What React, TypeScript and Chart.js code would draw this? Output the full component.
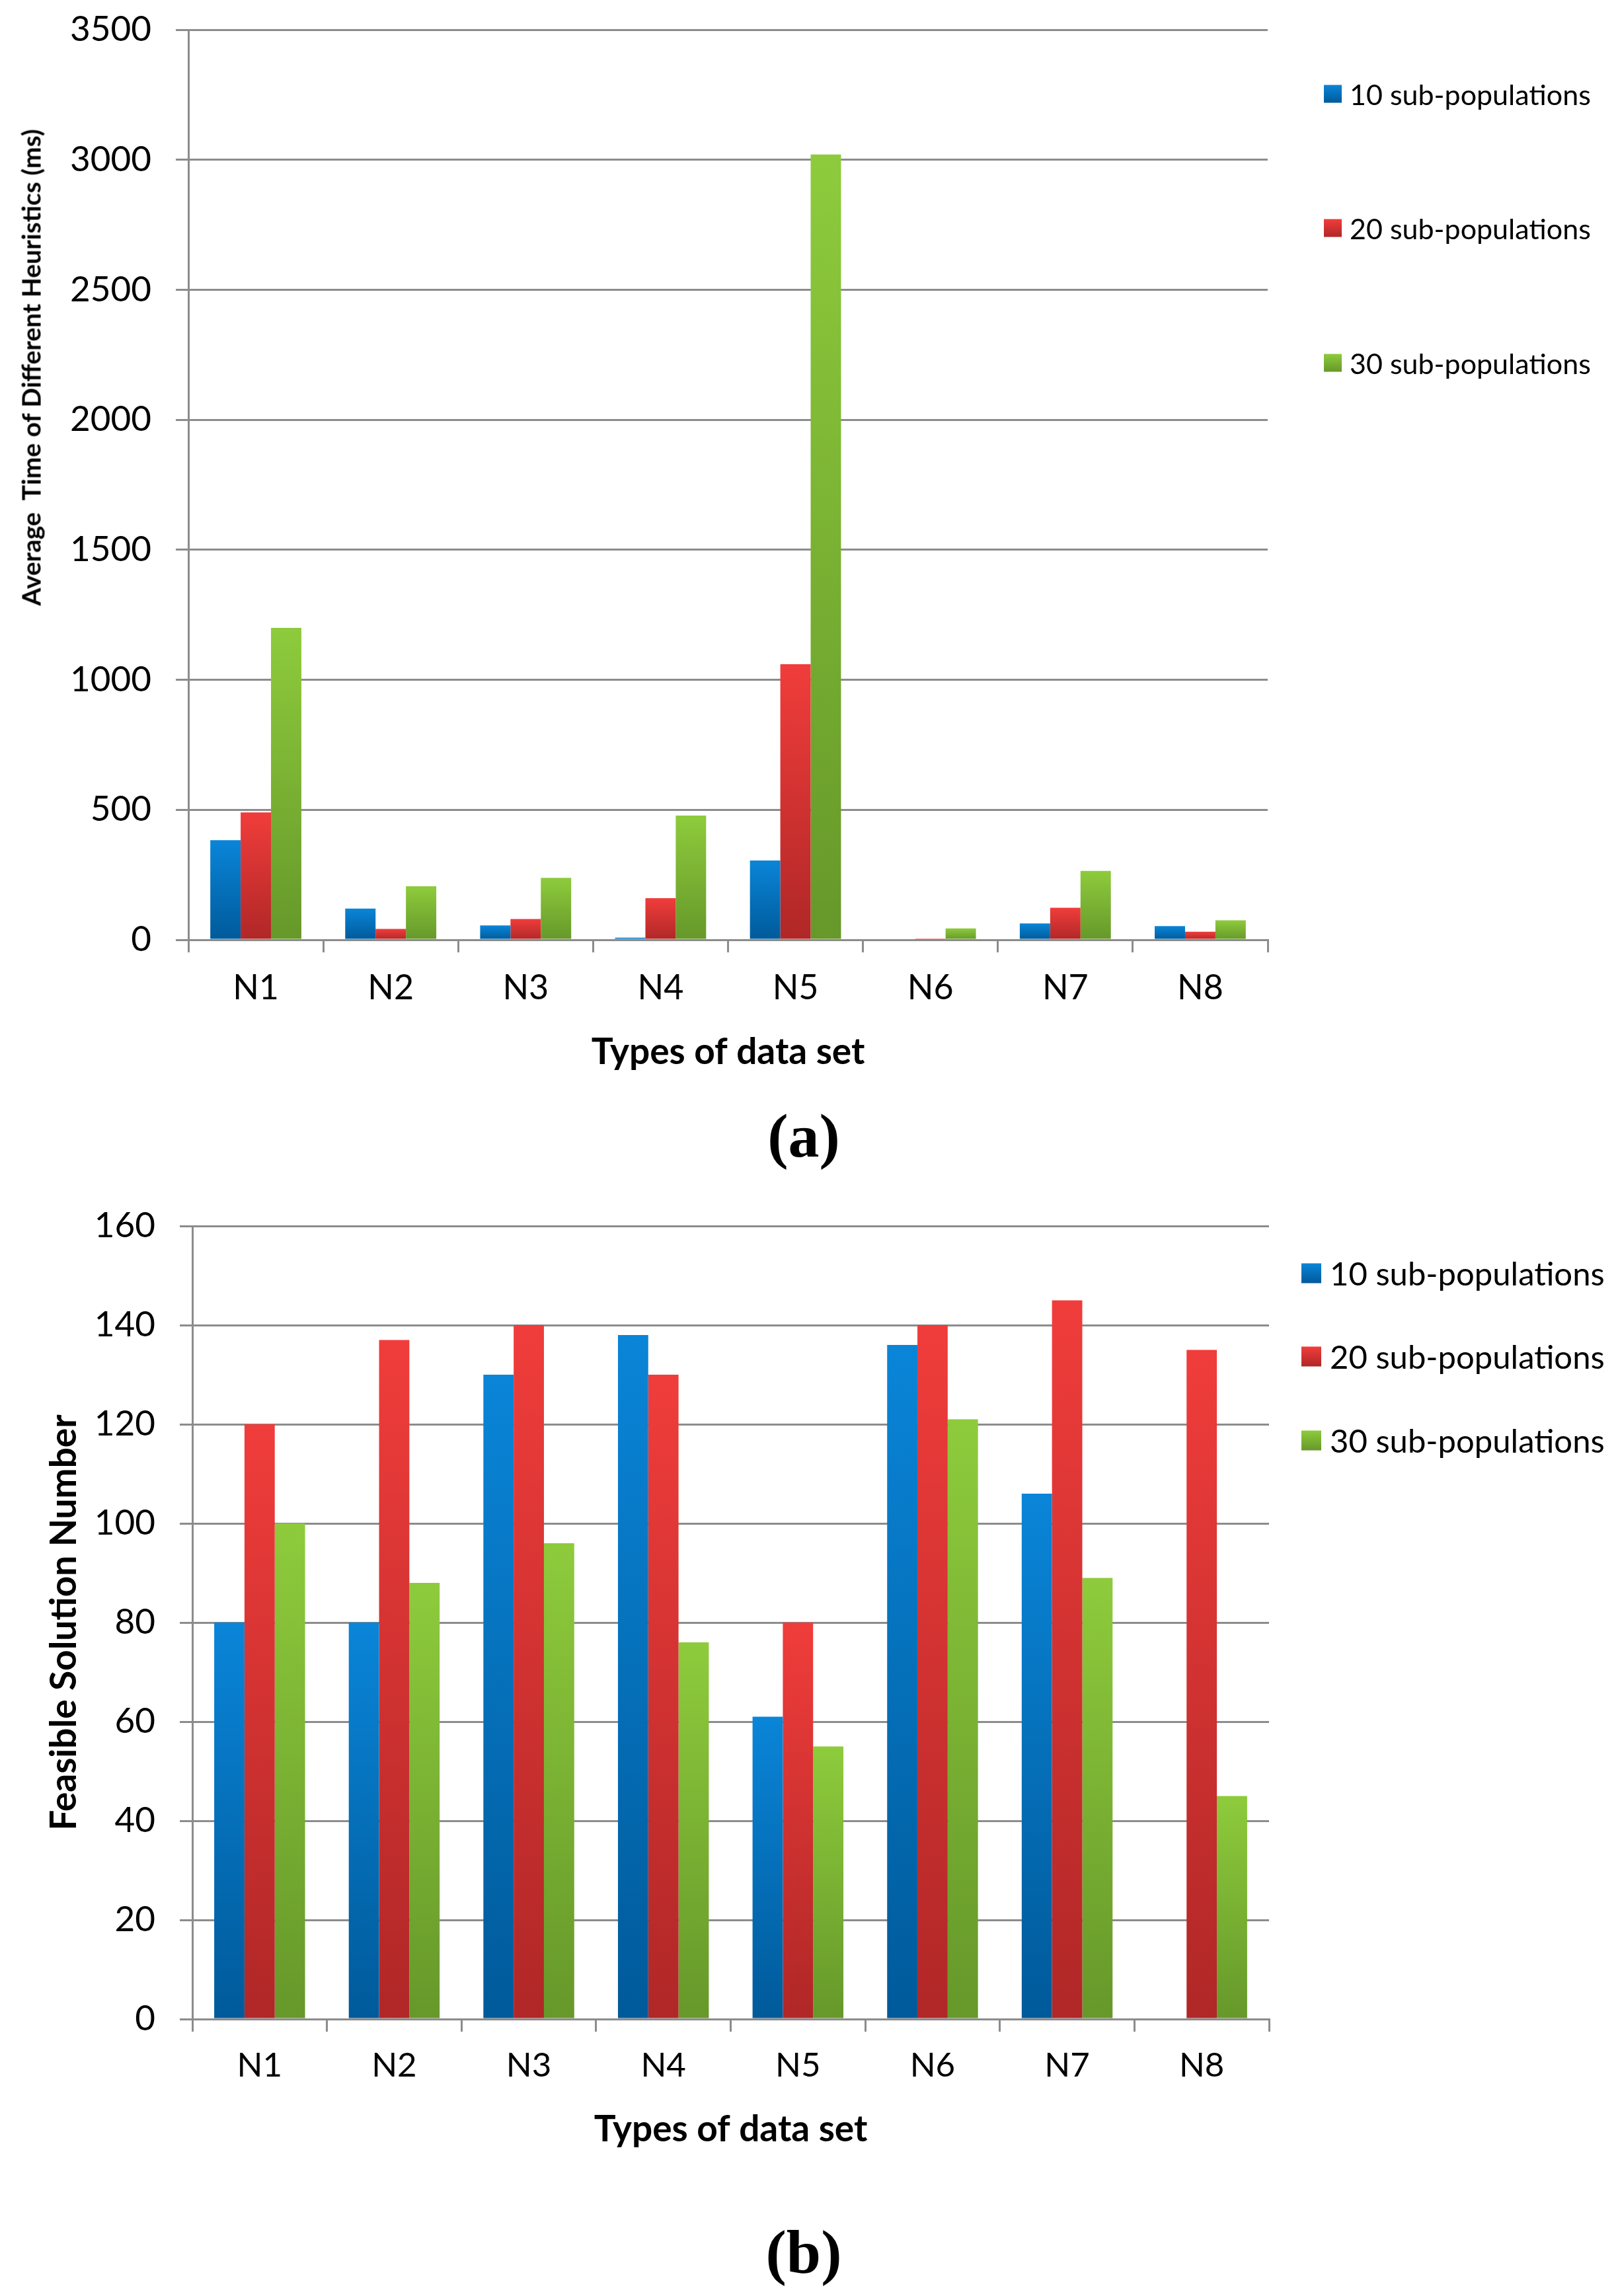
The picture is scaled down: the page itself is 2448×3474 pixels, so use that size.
import { useEffect, useRef } from "react";
import { Chart, registerables } from "chart.js";

Chart.register(...registerables);

const categories = ["N1", "N2", "N3", "N4", "N5", "N6", "N7", "N8"];
const seriesLabels = ["10 sub-populations", "20 sub-populations", "30 sub-populations"];

// (a) average time of different heuristics, ms
const timeSub10 = [383, 120, 55, 8, 305, 4, 63, 53];
const timeSub20 = [490, 42, 80, 160, 1060, 2, 123, 31];
const timeSub30 = [1200, 206, 238, 478, 3020, 44, 265, 75];
const timeTicks = [0, 500, 1000, 1500, 2000, 2500, 3000, 3500];

// (b) feasible solution number
const feasSub10 = [80, 80, 130, 138, 61, 136, 106, 0];
const feasSub20 = [120, 137, 140, 130, 80, 140, 145, 135];
const feasSub30 = [100, 88, 96, 76, 55, 121, 89, 45];
const feasTicks = [0, 20, 40, 60, 80, 100, 120, 140, 160];

const palette = [
  { top: "#0a85d8", bottom: "#005a9a" },
  { top: "#f03d3b", bottom: "#b02727" },
  { top: "#8ecb3c", bottom: "#66982a" },
];

const FONT = "Lato, 'Open Sans', sans-serif";
const GRID = "#8c8c8c";

// vertical gradient per bar, lighter at the top
function barFill(top: string, bottom: string) {
  return (ctx: any) => {
    const chart = ctx.chart;
    const y = chart.scales && chart.scales.y;
    if (!y || ctx.type !== "data") return bottom;
    const y0 = y.getPixelForValue(ctx.raw);
    const y1 = y.getPixelForValue(0);
    if (!isFinite(y0) || !isFinite(y1) || y1 - y0 < 2) return top;
    const g = chart.ctx.createLinearGradient(0, y0, 0, y1);
    g.addColorStop(0, top);
    g.addColorStop(1, bottom);
    return g;
  };
}

type PanelProps = {
  series: number[][];
  ticks: number[];
  top: number;
  height: number;
  padTop: number;
  padRight: number;
  yWidth: number;
  xHeight: number;
  yTitle?: string;
  yTitleSize?: number;
  yTitlePad?: number;
  tickSize: number;
  tickPadY: number;
  labelSize: number;
  labelPad: number;
  xTitleSize: number;
  xTitlePad: number;
};

function BarPanel(p: PanelProps) {
  const canvasRef = useRef<HTMLCanvasElement | null>(null);
  const chartRef = useRef<Chart | null>(null);

  useEffect(() => {
    const canvas = canvasRef.current;
    if (!canvas) return;
    if (chartRef.current) {
      chartRef.current.destroy();
      chartRef.current = null;
    }

    const datasets = p.series.map((data, i) => ({
      label: seriesLabels[i],
      data,
      backgroundColor: barFill(palette[i].top, palette[i].bottom),
      borderWidth: 0,
      categoryPercentage: 0.675,
      barPercentage: 1,
    }));

    chartRef.current = new Chart(canvas, {
      type: "bar",
      data: { labels: categories, datasets },
      options: {
        responsive: false,
        animation: false,
        devicePixelRatio: 1,
        layout: { padding: { top: p.padTop, right: p.padRight, left: 0, bottom: 0 } },
        plugins: { legend: { display: false }, tooltip: { enabled: false } },
        scales: {
          x: {
            afterFit: (s: any) => {
              s.height = p.xHeight;
            },
            grid: {
              offset: true,
              drawOnChartArea: false,
              drawTicks: true,
              tickLength: 19,
              color: GRID,
              lineWidth: 3,
            },
            border: { display: true, color: GRID, width: 3 },
            ticks: {
              color: "#000",
              padding: p.labelPad,
              font: { family: FONT, size: p.labelSize, lineHeight: 1 },
            },
            title: {
              display: true,
              text: "Types of data set",
              color: "#000",
              font: { family: FONT, size: p.xTitleSize, weight: "bold", lineHeight: 1 },
              padding: { top: 0, bottom: p.xTitlePad },
            },
          },
          y: {
            min: p.ticks[0],
            max: p.ticks[p.ticks.length - 1],
            afterFit: (s: any) => {
              s.width = p.yWidth;
              s.paddingTop = 0;
              s.paddingBottom = 0;
            },
            afterBuildTicks: (s: any) => {
              s.ticks = p.ticks.map((v) => ({ value: v }));
            },
            grid: { color: GRID, lineWidth: 3, drawTicks: true, tickLength: 19 },
            border: { display: true, color: GRID, width: 3 },
            ticks: {
              color: "#000",
              padding: p.tickPadY,
              font: { family: FONT, size: p.tickSize, lineHeight: 1 },
              callback: (v: any) => String(v),
            },
            title: {
              display: !!p.yTitle,
              text: p.yTitle || "",
              color: "#000",
              font: { family: FONT, size: p.yTitleSize || 40, weight: "bold", lineHeight: 1 },
              padding: { top: p.yTitlePad || 0, bottom: 0 },
            },
          },
        },
      },
    });

    return () => {
      if (chartRef.current) {
        chartRef.current.destroy();
        chartRef.current = null;
      }
    };
  }, []);

  return (
    <canvas
      ref={canvasRef}
      width={2448}
      height={p.height}
      style={{ position: "absolute", left: 0, top: p.top, width: 2448, height: p.height }}
    />
  );
}

function Legend(props: { boxX: number; box: number; gap: number; ys: number[]; size: number }) {
  return (
    <>
      {seriesLabels.map((label, i) => (
        <div
          key={label}
          style={{
            position: "absolute",
            left: props.boxX,
            top: props.ys[i],
            transform: "translateY(-50%)",
            display: "flex",
            alignItems: "center",
            whiteSpace: "nowrap",
            fontFamily: FONT,
            fontSize: props.size,
            lineHeight: 1,
            color: "#000",
          }}
        >
          <span
            style={{
              display: "inline-block",
              width: props.box,
              height: props.box,
              marginRight: props.gap,
              background: `linear-gradient(${palette[i].top}, ${palette[i].bottom})`,
            }}
          />
          <span>{label}</span>
        </div>
      ))}
    </>
  );
}

const panelLabel = {
  position: "absolute" as const,
  left: 1216,
  transform: "translate(-50%, -50%)",
  fontFamily: "'Liberation Serif', serif",
  fontWeight: "bold" as const,
  fontSize: 94,
  lineHeight: 1,
};

export default function App() {
  return (
    <div style={{ position: "absolute", left: 0, top: 0, width: 2448, height: 3474, background: "#fff" }}>
      <BarPanel
        series={[timeSub10, timeSub20, timeSub30]}
        ticks={timeTicks}
        top={0}
        height={1680}
        padTop={45}
        padRight={530}
        yWidth={285}
        xHeight={258}
        tickSize={53}
        tickPadY={37}
        labelSize={52}
        labelPad={28}
        xTitleSize={55}
        xTitlePad={60}
      />
      <div
        style={{
          position: "absolute",
          left: 47,
          top: 556,
          transform: "translate(-50%, -50%) rotate(-90deg)",
          whiteSpace: "pre",
          fontFamily: FONT,
          fontWeight: "bold",
          fontSize: 39,
          lineHeight: 1,
        }}
      >
        {"Average  Time of Different Heuristics (ms)"}
      </div>
      <Legend boxX={2003} box={27} gap={12} ys={[142, 345, 549]} size={43} />
      <div style={{ ...panelLabel, top: 1718 }}>(a)</div>

      <BarPanel
        series={[feasSub10, feasSub20, feasSub30]}
        ticks={feasTicks}
        top={1760}
        height={1540}
        padTop={95}
        padRight={528}
        yWidth={291}
        xHeight={245}
        yTitle="Feasible Solution Number"
        yTitleSize={55}
        yTitlePad={70}
        tickSize={53}
        tickPadY={37}
        labelSize={51}
        labelPad={26}
        xTitleSize={55}
        xTitlePad={50}
      />
      <Legend boxX={1969} box={30} gap={13} ys={[1926, 2052, 2179]} size={49} />
      <div style={{ ...panelLabel, top: 3407 }}>(b)</div>
    </div>
  );
}
